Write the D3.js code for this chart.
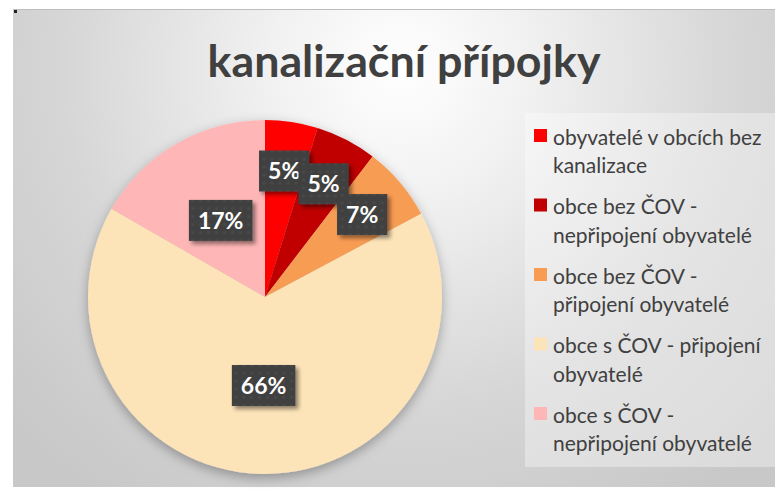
<!DOCTYPE html>
<html>
<head>
<meta charset="utf-8">
<script src="https://cdn.jsdelivr.net/npm/d3@7"></script>
<style>
  html, body { margin: 0; padding: 0; background: #ffffff; }
  svg { display: block; }
</style>
</head>
<body>
<div id="chart"></div>
<script>
// chart size
const WIDTH = 775, HEIGHT = 499;

// data (share of population, %)
const categories = [
  "obyvatelé v obcích bez kanalizace",
  "obce bez ČOV - nepřipojení obyvatelé",
  "obce bez ČOV - připojení obyvatelé",
  "obce s ČOV - připojení obyvatelé",
  "obce s ČOV - nepřipojení obyvatelé"
];
const values = [4.8, 5.6, 6.8, 66.1, 16.7];
const percentLabels = ["5%", "5%", "7%", "66%", "17%"];
// legend text, already broken into the two lines the picture shows
const legendLines = [
  ["obyvatelé v obcích bez", "kanalizace"],
  ["obce bez ČOV -", "nepřipojení obyvatelé"],
  ["obce bez ČOV -", "připojení obyvatelé"],
  ["obce s ČOV - připojení", "obyvatelé"],
  ["obce s ČOV -", "nepřipojení obyvatelé"]
];
const colors = ["#ff0000", "#c00000", "#f79c52", "#fde4b8", "#ffb6b6"];

const FONT = "Lato, 'Open Sans', sans-serif";

let svg = d3.select("#chart")
  .append("svg")
  .attr("width", WIDTH)
  .attr("height", HEIGHT);

const defs = svg.append("defs");

// background gradient - white round the title, grey at the edges
const bg = defs.append("radialGradient")
  .attr("id", "bgGrad")
  .attr("gradientUnits", "userSpaceOnUse")
  .attr("cx", 400).attr("cy", 70).attr("r", 520);
bg.append("stop").attr("offset", 0).attr("stop-color", "#ffffff");
bg.append("stop").attr("offset", 0.25).attr("stop-color", "#f1f1f1");
bg.append("stop").attr("offset", 0.65).attr("stop-color", "#d6d6d6");
bg.append("stop").attr("offset", 1).attr("stop-color", "#c8c8c8");

const pieShadow = defs.append("filter").attr("id", "pieShadow")
  .attr("x", "-20%").attr("y", "-20%").attr("width", "140%").attr("height", "140%");
pieShadow.append("feDropShadow")
  .attr("dx", 0).attr("dy", 4).attr("stdDeviation", 6)
  .attr("flood-color", "#000").attr("flood-opacity", 0.3);

const boxShadow = defs.append("filter").attr("id", "boxShadow")
  .attr("x", "-30%").attr("y", "-30%").attr("width", "160%").attr("height", "160%");
boxShadow.append("feDropShadow")
  .attr("dx", 3).attr("dy", 3).attr("stdDeviation", 2)
  .attr("flood-color", "#000").attr("flood-opacity", 0.45);

// faint dotted texture on the label boxes
const dots = defs.append("pattern").attr("id", "dots")
  .attr("width", 8).attr("height", 8).attr("patternUnits", "userSpaceOnUse");
dots.append("rect").attr("width", 8).attr("height", 8).attr("fill", "#404040");
dots.append("circle").attr("cx", 4).attr("cy", 4).attr("r", 1.6).attr("fill", "#4a4a4a");

// chart area
svg.append("rect")
  .attr("x", 13).attr("y", 9)
  .attr("width", WIDTH - 13).attr("height", 478)
  .attr("fill", "url(#bgGrad)");
svg.append("line")
  .attr("x1", 13).attr("x2", WIDTH).attr("y1", 9.5).attr("y2", 9.5)
  .attr("stroke", "#bdbdbd");
svg.append("rect")
  .attr("x", 14).attr("y", 10).attr("width", 3).attr("height", 3)
  .attr("fill", "#222");

// title
svg.append("text")
  .attr("x", 404).attr("y", 77)
  .attr("text-anchor", "middle")
  .attr("font-family", FONT)
  .attr("font-weight", 700)
  .attr("font-size", 43)
  .attr("fill", "#404040")
  .attr("textLength", 393)
  .attr("lengthAdjust", "spacingAndGlyphs")
  .text("kanalizační přípojky");

// pie
const cx = 265, cy = 297, radius = 177;
const data = values.map((v, i) => ({ name: categories[i], value: v, label: percentLabels[i], color: colors[i] }));

const pie = d3.pie().sort(null).value(d => d.value);
const arc = d3.arc().innerRadius(0).outerRadius(radius);

const pieG = svg.append("g")
  .attr("transform", `translate(${cx},${cy})`);

pieG.append("g")
  .attr("filter", "url(#pieShadow)")
  .selectAll("path")
  .data(pie(data))
  .enter()
  .append("path")
  .attr("d", arc)
  .attr("fill", d => d.data.color);

// data labels - small slices sit near the rim, big ones closer to the middle
const labelArc = d => {
  const share = (d.endAngle - d.startAngle) / (2 * Math.PI);
  const r = share < 0.1 ? radius * 0.72 : radius * 0.5;
  return d3.arc().innerRadius(r).outerRadius(r).centroid(d);
};

const labels = pieG.selectAll("g.lbl")
  .data(pie(data))
  .enter()
  .append("g")
  .attr("class", "lbl")
  .attr("transform", d => `translate(${labelArc(d)})`);

const boxes = labels.append("rect")
  .attr("fill", "url(#dots)")
  .attr("filter", "url(#boxShadow)");

const lblText = labels.append("text")
  .attr("text-anchor", "middle")
  .attr("dy", "0.36em")
  .attr("font-family", FONT)
  .attr("font-weight", 700)
  .attr("font-size", 23)
  .attr("fill", "#ffffff")
  .text(d => d.data.label);

lblText.each(function(d) {
  d.textW = this.getComputedTextLength();
});
boxes
  .attr("x", d => -(d.textW + 18) / 2)
  .attr("y", -20.5)
  .attr("width", d => d.textW + 18)
  .attr("height", 41);

// legend
const legendX = 525, legendY = 113;
svg.append("rect")
  .attr("x", legendX).attr("y", legendY)
  .attr("width", WIDTH - legendX).attr("height", 354)
  .attr("fill", "#ffffff").attr("fill-opacity", 0.35);

const itemStep = 69.5, lineStep = 28.5;
const legend = svg.append("g")
  .attr("transform", `translate(${legendX},${legendY})`);

const items = legend.selectAll("g.item")
  .data(data)
  .enter()
  .append("g")
  .attr("class", "item")
  .attr("transform", (d, i) => `translate(0,${25 + i * itemStep})`);

items.append("rect")
  .attr("x", 9).attr("y", -9)
  .attr("width", 13).attr("height", 13)
  .attr("fill", d => d.color);

const legText = items.append("text")
  .attr("font-family", FONT)
  .attr("font-size", 21)
  .attr("fill", "#404040");

legText.selectAll("tspan")
  .data((d, i) => legendLines[i])
  .enter()
  .append("tspan")
  .attr("x", 0)
  .attr("y", (d, j) => j * lineStep)
  .attr("dy", "0.32em")
  .text(d => d);

// squeeze the legend text horizontally so the longest line fits like the original
let widest = 0;
legText.selectAll("tspan").each(function() {
  widest = Math.max(widest, this.getComputedTextLength());
});
const sx = Math.min(1, 219 / widest);
legText.attr("transform", `translate(28,0) scale(${sx},1)`);
</script>
</body>
</html>
